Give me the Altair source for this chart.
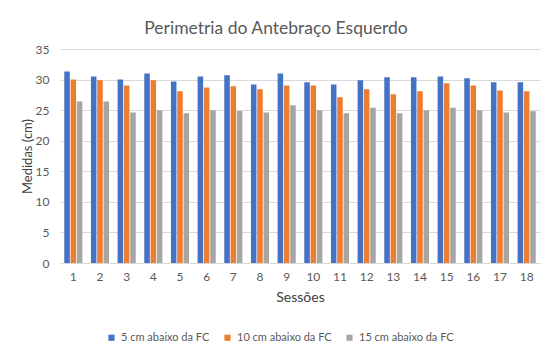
import altair as alt
import pandas as pd

sessions = [str(i) for i in range(1, 19)]
series = ["5 cm abaixo da FC", "10 cm abaixo da FC", "15 cm abaixo da FC"]
s5 = [31.3, 30.5, 30.0, 31.0, 29.7, 30.5, 30.7, 29.2, 31.0, 29.55, 29.2, 29.9, 30.4, 30.4, 30.5, 30.2, 29.55, 29.55]
s10 = [30.0, 29.9, 29.05, 29.9, 28.1, 28.7, 28.9, 28.4, 29.05, 29.05, 27.1, 28.4, 27.6, 28.1, 29.4, 29.05, 28.2, 28.1]
s15 = [26.4, 26.4, 24.6, 25.0, 24.5, 25.0, 24.85, 24.6, 25.8, 25.0, 24.5, 25.4, 24.5, 25.0, 25.4, 25.0, 24.6, 24.8]
colors = ["#4472C4", "#ED7D31", "#A5A5A5"]

rows = []
for name, vals in zip(series, [s5, s10, s15]):
    for s, v in zip(sessions, vals):
        rows.append({"Sessão": s, "Série": name, "Valor": v})
df = pd.DataFrame(rows)

font = "Lato"
txt = "#595959"

chart = alt.Chart(df).mark_bar().encode(
    x=alt.X("Sessão:N", sort=sessions,
            scale=alt.Scale(paddingInner=0.32, paddingOuter=0.16),
            axis=alt.Axis(title="Sessões", labelAngle=0, ticks=False, domainColor="#d9d9d9",
                          labelColor=txt, labelFontSize=12, labelFont=font, labelPadding=8,
                          titleFont=font, titleFontSize=14, titleColor="#404040", titleFontWeight="normal",
                          titleY=34, titleBaseline="middle")),
    xOffset=alt.XOffset("Série:N", sort=series, scale=alt.Scale(paddingInner=0.12)),
    y=alt.Y("Valor:Q", scale=alt.Scale(domain=[0, 35]),
            axis=alt.Axis(title="Medidas (cm)", values=[0, 5, 10, 15, 20, 25, 30, 35], ticks=False,
                          domain=False, gridColor="#d9d9d9", labelColor=txt, labelFontSize=12,
                          labelFont=font, labelPadding=11,
                          titleFont=font, titleFontSize=13, titleColor="#404040", titleFontWeight="normal",
                          titleX=-33, titleY=107, titleBaseline="middle", titleAlign="center")),
    color=alt.Color("Série:N", sort=series, scale=alt.Scale(domain=series, range=colors),
                    legend=alt.Legend(title=None, orient="none", direction="horizontal",
                                      legendX=46, legendY=283, symbolType="square", symbolSize=38,
                                      symbolStrokeWidth=0, labelFont=font, labelFontSize=11,
                                      labelColor=txt, columnPadding=12, padding=0, labelOffset=4)),
).properties(
    width=480, height=214,
    autosize=alt.AutoSizeParams(type="none"),
    padding={"left": 52, "top": 41, "right": 6, "bottom": 92},
    title=alt.Title("Perimetria do Antebraço Esquerdo", font=font, fontSize=17.5, color=txt,
                    fontWeight="normal", anchor="middle", dx=-24, dy=-2),
).configure_view(stroke=None)

chart.save("out.html", embed_options={"renderer": "svg", "actions": False})
